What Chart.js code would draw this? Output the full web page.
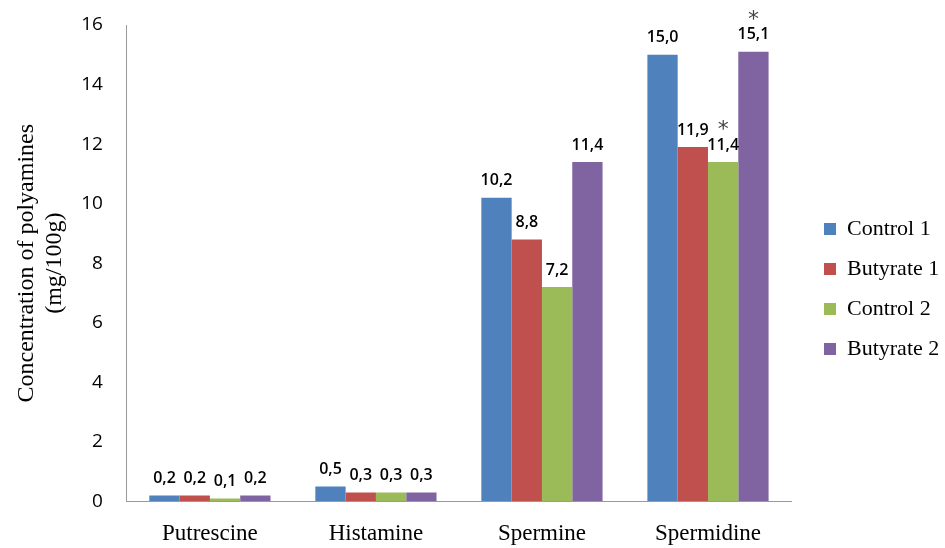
<!DOCTYPE html>
<html>
<head>
<meta charset="utf-8">
<script src="https://cdn.jsdelivr.net/npm/chart.js@4/dist/chart.umd.min.js"></script>
<style>
  html, body { margin: 0; padding: 0; background: #fff; }
  #wrap { width: 945px; height: 548px; }
</style>
</head>
<body>
<div id="wrap"><canvas id="polyChart" width="945" height="548"></canvas></div>
<script>
// data
const categories = ['Putrescine', 'Histamine', 'Spermine', 'Spermidine'];
const seriesNames = ['Control 1', 'Butyrate 1', 'Control 2', 'Butyrate 2'];
const control1 = [0.2, 0.5, 10.2, 15.0];
const butyrate1 = [0.2, 0.3, 8.8, 11.9];
const control2 = [0.1, 0.3, 7.2, 11.4];
const butyrate2 = [0.2, 0.3, 11.4, 15.1];
// significance marks (*) per series, per category
const starsControl2 = [false, false, false, true];
const starsButyrate2 = [false, false, false, true];
const yTicks = [0, 2, 4, 6, 8, 10, 12, 14, 16];

const colors = ['#4F81BD', '#C0504D', '#9BBB59', '#8064A2'];
const allValues = [control1, butyrate1, control2, butyrate2];
const allStars = [[false, false, false, false], [false, false, false, false], starsControl2, starsButyrate2];

// labels above bars, plus asterisks
const barLabels = {
    id: 'barLabels',
    afterDatasetsDraw(chart) {
        const ctx = chart.ctx;
        ctx.save();
        ctx.textAlign = 'center';
        ctx.textBaseline = 'bottom';
        chart.data.datasets.forEach((ds, i) => {
            const meta = chart.getDatasetMeta(i);
            meta.data.forEach((bar, j) => {
                const txt = ds.data[j].toFixed(1).replace('.', ',');
                ctx.fillStyle = '#000';
                ctx.font = '600 16px "Open Sans", sans-serif';
                ctx.fillText(txt, bar.x, bar.y - 9);
                if (allStars[i][j]) {
                    ctx.fillStyle = '#444';
                    ctx.font = '22px "DejaVu Sans", sans-serif';
                    ctx.fillText('*', bar.x, bar.y - 21);
                }
            });
        });
        ctx.restore();
    }
};

// legend sits a bit away from the plot, like the original
const legendPlace = {
    id: 'legendPlace',
    beforeInit(chart) {
        const fit = chart.legend.fit;
        chart.legend.fit = function () {
            fit.call(this);
            this.width = 154;
        };
    },
    afterLayout(chart) {
        const lg = chart.legend;
        lg.left += 15; lg.right += 15;
        lg.top -= 7; lg.bottom -= 7;
    }
};

const ctx = document.getElementById('polyChart').getContext('2d');
new Chart(ctx, {
    type: 'bar',
    data: {
        labels: categories,
        datasets: allValues.map((vals, i) => ({
            label: seriesNames[i],
            data: vals,
            backgroundColor: colors[i],
            borderWidth: 0,
            barPercentage: 1,
            categoryPercentage: 0.73
        }))
    },
    options: {
        responsive: false,
        animation: false,
        layout: { padding: { top: 25, right: 0, bottom: -19, left: 2 } },
        plugins: {
            legend: {
                position: 'right',
                align: 'center',
                labels: {
                    boxWidth: 12,
                    boxHeight: 12,
                    padding: 18,
                    color: '#000',
                    font: { family: '"Liberation Serif", serif', size: 22 }
                }
            },
            tooltip: { enabled: false }
        },
        scales: {
            x: {
                grid: { display: false, drawTicks: false },
                border: { color: '#999' },
                ticks: {
                    color: '#000',
                    padding: 19,
                    font: { family: '"Liberation Serif", serif', size: 23 }
                }
            },
            y: {
                min: 0,
                max: 16,
                afterBuildTicks: (axis) => { axis.ticks = yTicks.map(v => ({ value: v })); },
                grid: {
                    display: true,
                    drawOnChartArea: false,
                    drawTicks: true,
                    tickLength: 20,
                    tickColor: 'rgba(0,0,0,0)'
                },
                border: { color: '#999' },
                ticks: {
                    color: '#000',
                    padding: 4,
                    font: { family: '"Open Sans", sans-serif', size: 19 }
                },
                title: {
                    display: true,
                    text: ['Concentration of polyamines', '(mg/100g)'],
                    color: '#000',
                    padding: { top: 11, bottom: 8 },
                    font: { family: '"Liberation Serif", serif', size: 24, lineHeight: 1.17 }
                }
            }
        }
    },
    plugins: [barLabels, legendPlace]
});
</script>
</body>
</html>
